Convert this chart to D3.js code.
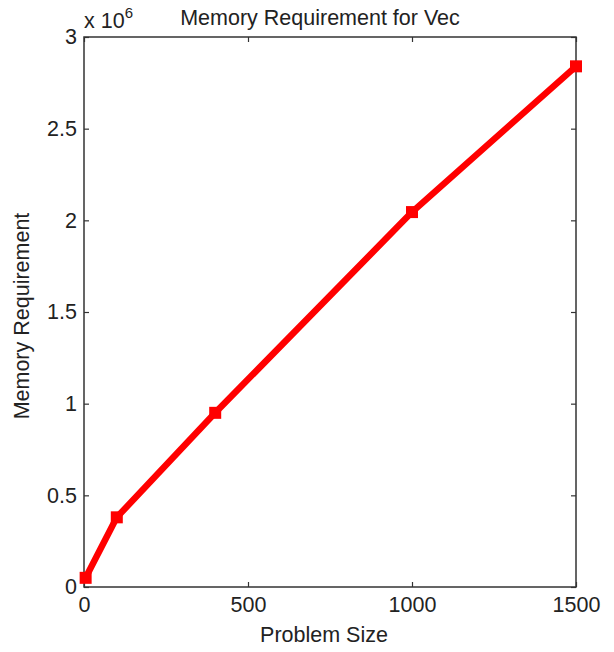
<!DOCTYPE html>
<html>
<head>
<meta charset="utf-8">
<script src="https://cdn.jsdelivr.net/npm/d3@7"></script>
<style>
  html, body { margin: 0; padding: 0; background: #fff; }
  svg text { font-family: "Liberation Sans", Arial, Helvetica, sans-serif; fill: #222; }
</style>
</head>
<body>
<svg id="chart" width="614" height="652"></svg>
<script>
// Problem sizes and memory requirement (in bytes)
const problemSize = [5, 100, 400, 1000, 1500];
const memoryReq = [0.05e6, 0.38e6, 0.95e6, 2.045e6, 2.84e6];

const xTicks = [0, 500, 1000, 1500];
const yTicks = [0, 0.5, 1, 1.5, 2, 2.5, 3];   // in units of 10^6
const yExponent = 6;

const titleText = "Memory Requirement for Vec";
const xLabelText = "Problem Size";
const yLabelText = "Memory Requirement";

const margin = { left: 84, right: 38, top: 37, bottom: 65 };
const W = 614, H = 652;
const fontSize = 21.5;
const svg = d3.select("#chart");

const x = d3.scaleLinear().domain([0, 1500]).range([margin.left, W - margin.right]);
const y = d3.scaleLinear().domain([0, 3]).range([H - margin.bottom, margin.top]);

const axisColor = "#333";
const tickLen = 5;

// inner-facing ticks on all four sides (boxed axes)
const g = svg.append("g");
function styleAxis(sel) {
  sel.attr("font-family", null).attr("font-size", null);
  sel.select(".domain").remove();
  sel.selectAll(".tick line").attr("stroke", axisColor).attr("stroke-width", 1.2);
  sel.selectAll(".tick text").attr("font-size", fontSize).attr("fill", "#222");
}
g.append("g").attr("transform", `translate(0,${y(0)})`)
  .call(d3.axisBottom(x).tickValues(xTicks).tickFormat(d3.format("d")).tickSizeInner(-tickLen).tickSizeOuter(0).tickPadding(10))
  .call(styleAxis);
g.append("g").attr("transform", `translate(0,${y(3)})`)
  .call(d3.axisTop(x).tickValues(xTicks).tickFormat("").tickSizeInner(-tickLen).tickSizeOuter(0))
  .call(styleAxis);
g.append("g").attr("transform", `translate(${x(0)},0)`)
  .call(d3.axisLeft(y).tickValues(yTicks).tickFormat(d => d3.format("")(d)).tickSizeInner(-tickLen).tickSizeOuter(0).tickPadding(7))
  .call(styleAxis);
g.append("g").attr("transform", `translate(${x(1500)},0)`)
  .call(d3.axisRight(y).tickValues(yTicks).tickFormat("").tickSizeInner(-tickLen).tickSizeOuter(0))
  .call(styleAxis);

// axes box
svg.append("rect")
  .attr("x", x(0)).attr("y", y(3))
  .attr("width", x(1500) - x(0)).attr("height", y(0) - y(3))
  .attr("fill", "none").attr("stroke", axisColor).attr("stroke-width", 1.5);

// data line
const pts = problemSize.map((s, i) => [s, memoryReq[i] / Math.pow(10, yExponent)]);
svg.append("path")
  .datum(pts)
  .attr("fill", "none")
  .attr("stroke", "#ff0000")
  .attr("stroke-width", 6.5)
  .attr("stroke-linejoin", "round")
  .attr("d", d3.line().x(d => x(d[0])).y(d => y(d[1])));

// square markers
const ms = 12;
svg.selectAll("rect.marker").data(pts).join("rect")
  .attr("class", "marker")
  .attr("x", d => x(d[0]) - ms / 2)
  .attr("y", d => y(d[1]) - ms / 2)
  .attr("width", ms).attr("height", ms)
  .attr("fill", "#ff0000");

// exponent label
const expText = svg.append("text").attr("x", x(0)).attr("y", 28).attr("font-size", fontSize);
expText.append("tspan").text("x 10");
expText.append("tspan").attr("dy", -10).attr("font-size", 15).text(yExponent);

// title
svg.append("text")
  .attr("x", 320).attr("y", 25)
  .attr("text-anchor", "middle").attr("font-size", fontSize)
  .text(titleText);

// axis labels
svg.append("text")
  .attr("x", 324).attr("y", 642)
  .attr("text-anchor", "middle").attr("font-size", fontSize)
  .text(xLabelText);
svg.append("text")
  .attr("transform", `translate(29,${(y(0) + y(3)) / 2 + 4}) rotate(-90)`)
  .attr("text-anchor", "middle").attr("font-size", fontSize)
  .text(yLabelText);
</script>
</body>
</html>
